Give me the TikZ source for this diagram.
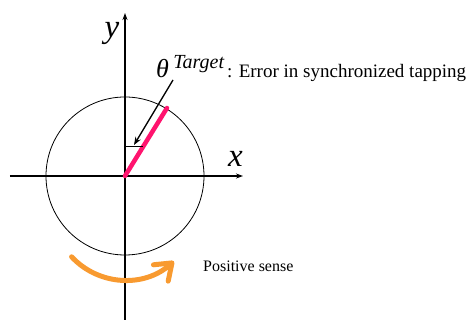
\documentclass[tikz,border=0pt]{standalone}
\usepackage{fontspec}
\setmainfont{Liberation Serif}
\usetikzlibrary{arrows.meta}
\definecolor{tapPink}{RGB}{255,20,110}
\definecolor{senseOrange}{RGB}{248,154,48}

\begin{document}
\begin{tikzpicture}[x=1pt,y=1pt,
    axis/.style={line width=1.2pt, -{Stealth[length=7pt,width=5pt]}},
    axlabel/.style={font=\fontsize{33}{36}\selectfont\itshape, inner sep=0pt, anchor=base}]
            \useasboundingbox (-125,-144) rectangle (347,176);
            % Origin and points
            \coordinate (O) at (0,0);
            \coordinate (xl) at (-115,0);
            \coordinate (xr) at (118,0);
            \coordinate (yb) at (0,-144);
            \coordinate (yt) at (0,163);
            \coordinate (P) at (42,68);
            \coordinate (m1) at (0,30);
            \coordinate (m2) at (18.5,30);
            \coordinate (a0) at (48,96);
            \coordinate (a1) at (9,31);
            \coordinate (s0) at (-53.4,-80.8);

            % Axes and circle
            \draw[axis] (xl) -- (xr);
            \draw[axis] (yb) -- (yt);
            \draw[line width=0.8pt] (O) circle[radius=79];
            \node[axlabel] (ylab) at (-13,138) {y};
            \node[axlabel] (xlab) at (110.5,9) {x};

            % Target direction
            \draw[tapPink, line width=4.5pt, line cap=round] (O) -- (P);
            \draw[line width=0.8pt] (m1) -- (m2);
            \draw[line width=1.3pt, -{Stealth[length=8pt,width=6pt]}] (a0) -- (a1);

            % Labels
            \node[anchor=base west, inner sep=0pt] (theta) at (31,98)
                {\fontsize{26}{30}\selectfont\itshape θ\,\raisebox{9pt}{\fontsize{20}{24}\selectfont Target}};
            \node[anchor=base west, inner sep=0pt] (err) at (102,98)
                {\fontsize{19}{22}\selectfont : Error in synchronized tapping};

            % Positive sense
            \draw[senseOrange, line width=5pt, line cap=round,
                  -{Straight Barb[length=15pt,width=22pt,round]}]
                (s0) arc[start angle=223, end angle=312, radius=73];
            \node[anchor=base west, inner sep=0pt] (sense) at (78,-96)
                {\fontsize{16}{19}\selectfont Positive sense};
        \end{tikzpicture}
\end{document}
